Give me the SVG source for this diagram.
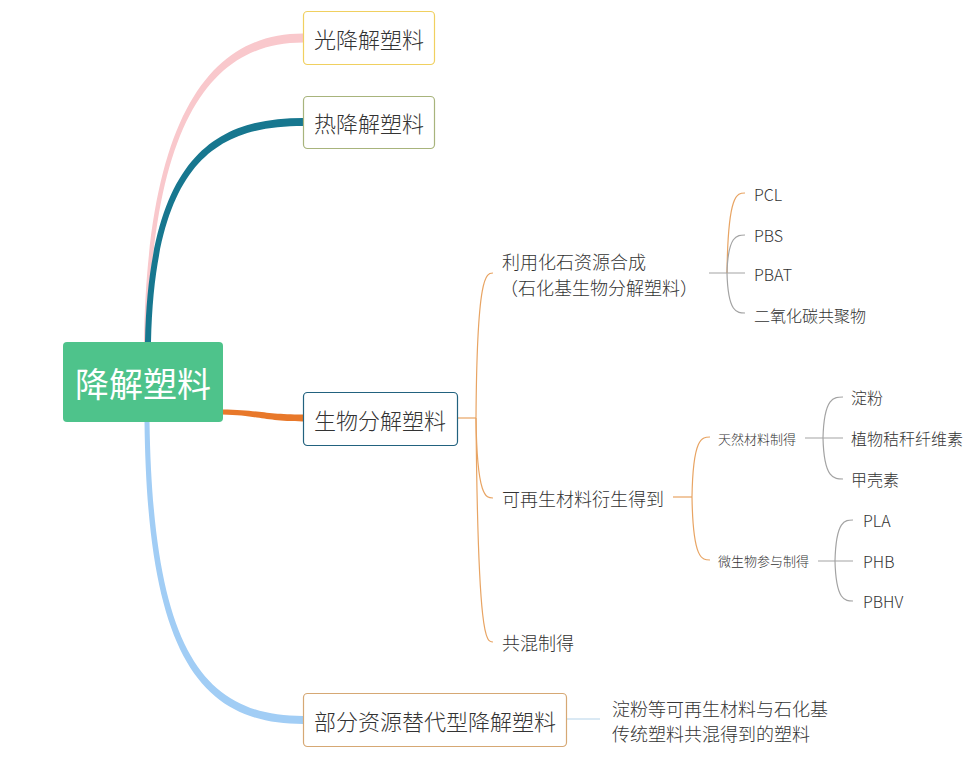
<svg xmlns="http://www.w3.org/2000/svg" width="972" height="765" viewBox="0 0 972 765">
<style>
text{font-family:"Noto Sans CJK SC","Noto Sans",sans-serif;fill:#333;dominant-baseline:central;font-weight:300}
.box{fill:#fff;stroke-width:1.2}
.ob{fill:none;stroke:#e8a463;stroke-width:1.2}
.gb{fill:none;stroke:#a3a3a3;stroke-width:1.2}
.t22{font-size:22px;text-anchor:middle}
.t18{font-size:18px}
.t16{font-size:16px}
.t13{font-size:13px}
</style>
<rect width="972" height="765" fill="#fff"/>
<g id="connectors">
<path d="M144,342 C147.5,118 209,33.5 303,33.5 L303,42.5 C211,42.5 152.5,122 148,342 Z" fill="#f9c8cc"/>
<path d="M145,342 C149,158 214,118 303,118 L303,126 C216,126 155,162 151,342 Z" fill="#17778f"/>
<path d="M222,409.5 C260,410 265,414.5 303,414.5 L303,421.5 C265,421.5 260,415.5 222,414.5 Z" fill="#e8782a"/>
<path d="M144.5,421 C147,652 198,724 303,724 L303,716 C202,716 153,648 149.5,421 Z" fill="#a1cdf5"/>
<path class="ob" d="M457,418 L476,418"/>
<path class="ob" d="M476,418 C477,273 486,273 493,273"/>
<path class="ob" d="M476,418 C477,498 486,498 493,498"/>
<path class="ob" d="M476,418 C478,642 486,642 493,642"/>
<path class="gb" d="M709,273 L727,273 L745,273"/>
<path class="ob" d="M727,273 C728,193 737,193 745,193"/>
<path class="gb" d="M727,273 C728,235 737,235 745,235"/>
<path class="gb" d="M727,273 C728,313 737,313 745,313"/>
<path class="ob" d="M673,497 L692,497"/>
<path class="ob" d="M692,497 C693,437 702,437 710,437"/>
<path class="ob" d="M692,497 C693,560 702,560 710,560"/>
<path class="gb" d="M805,438 L823,438 L843,438"/>
<path class="gb" d="M823,438 C824,397 834,397 843,397"/>
<path class="gb" d="M823,438 C824,479 834,479 843,479"/>
<path class="gb" d="M818,561 L835,561 L853,561"/>
<path class="gb" d="M835,561 C836,520 845,520 853,520"/>
<path class="gb" d="M835,561 C836,601 845,601 853,601"/>
<path d="M566,719 L600,719" fill="none" stroke="#b5d3ea" stroke-width="1.2"/>
</g>
<g id="root">
<rect x="63" y="342" width="160" height="80" rx="4" fill="#4ec38b"/>
<text x="143" y="382" style="font-size:34px;fill:#fff;text-anchor:middle;font-weight:400">降解塑料</text>
</g>
<g id="n-guang">
<rect class="box" x="303.5" y="11.5" width="131" height="53" rx="4" stroke="#f0d060"/>
<text class="t22" x="369" y="38">光降解塑料</text>
</g>
<g id="n-re">
<rect class="box" x="303.5" y="96.5" width="131" height="52" rx="4" stroke="#a8b47c"/>
<text class="t22" x="369" y="122">热降解塑料</text>
</g>
<g id="n-shengwu">
<rect class="box" x="303.5" y="392.5" width="154" height="53" rx="4" stroke="#22627f"/>
<text class="t22" x="380" y="419">生物分解塑料</text>
</g>
<g id="n-bufen">
<rect class="box" x="303.5" y="693.5" width="263" height="53" rx="4" stroke="#d6a874"/>
<text class="t22" x="435" y="720">部分资源替代型降解塑料</text>
</g>
<g id="n-bufen-note">
<text class="t18" x="612" y="708">淀粉等可再生材料与石化基</text>
<text class="t18" x="612" y="733">传统塑料共混得到的塑料</text>
</g>
<g id="n-fossil">
<text class="t18" x="502" y="261">利用化石资源合成</text>
<text class="t18" x="500" y="287">（石化基生物分解塑料）</text>
</g>
<g id="n-pcl"><text class="t16" x="754" y="194">PCL</text></g>
<g id="n-pbs"><text class="t16" x="754" y="235">PBS</text></g>
<g id="n-pbat"><text class="t16" x="754" y="274">PBAT</text></g>
<g id="n-co2"><text class="t16" x="754" y="315">二氧化碳共聚物</text></g>
<g id="n-renew"><text class="t18" x="502" y="498">可再生材料衍生得到</text></g>
<g id="n-blend"><text class="t18" x="502" y="642">共混制得</text></g>
<g id="n-natural"><text class="t13" x="718" y="438">天然材料制得</text></g>
<g id="n-micro"><text class="t13" x="718" y="560">微生物参与制得</text></g>
<g id="n-starch"><text class="t16" x="851" y="397">淀粉</text></g>
<g id="n-fiber"><text class="t16" x="851" y="438">植物秸秆纤维素</text></g>
<g id="n-chitin"><text class="t16" x="851" y="479">甲壳素</text></g>
<g id="n-pla"><text class="t16" x="863" y="520">PLA</text></g>
<g id="n-phb"><text class="t16" x="863" y="561">PHB</text></g>
<g id="n-pbhv"><text class="t16" x="863" y="601">PBHV</text></g>
</svg>
